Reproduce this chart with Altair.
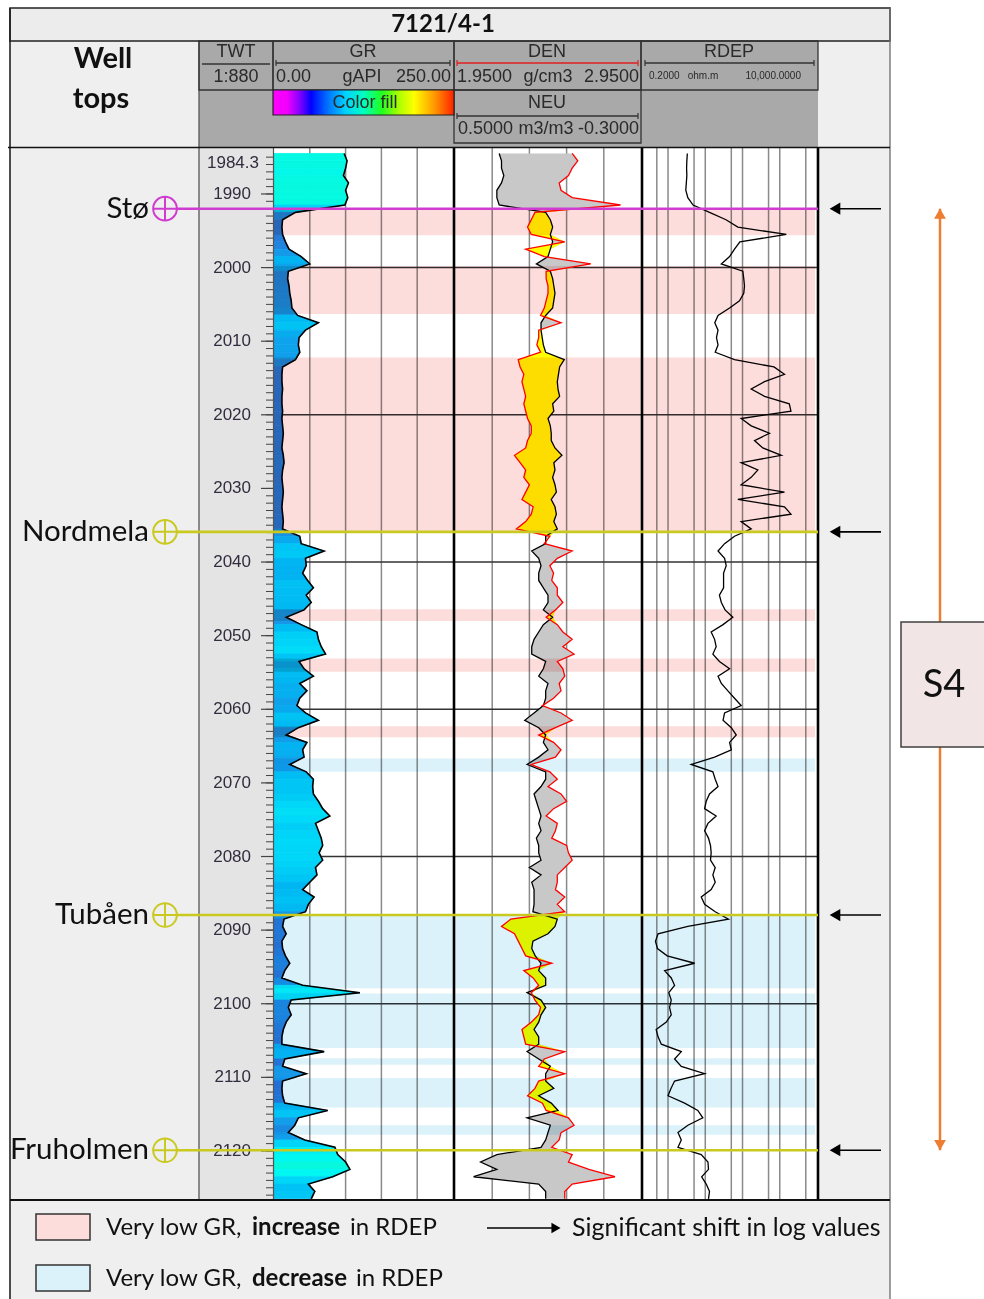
import altair as alt
import numpy as np
import pandas as pd

# ---------------------------------------------------------------------------
# Well 7121/4-1 log samples (1 m spacing)
# ---------------------------------------------------------------------------
DEPTH = np.round(np.arange(1984.5, 2127.0, 1.0), 1)

# Gamma ray, gAPI
GR = [98, 102, 100, 97, 104, 100, 103, 99,
      30, 12, 11, 12, 16, 21, 38, 50,
      20, 19, 21, 22, 24, 25, 33, 62, 44, 35, 34, 36, 30,
      12, 11, 11, 12, 11, 11, 12, 11, 12, 13, 12, 11, 13, 14, 12, 11, 12, 13,
      12, 11, 12, 13, 12,
      36, 38, 70, 44, 45, 40, 47, 55, 45, 52, 42, 17, 38, 60, 62, 66, 72,
      35, 42, 55, 36, 46, 36, 32, 44, 62, 34, 17, 46, 40, 42, 22, 45, 55,
      54, 55, 62, 68, 78, 58, 62, 66, 68, 63, 68, 58, 60, 50, 40, 56, 48, 44,
      14, 12, 17, 11, 12, 16, 22, 15, 11, 40, 120, 24, 20, 24, 17, 13, 11,
      11, 70, 15, 12, 45, 12, 11, 12, 15, 75, 34, 29, 20, 43, 85,
      89, 100, 106, 82, 48, 57, 52]

# Bulk density, g/cm3
DEN = [2.58, 2.61, 2.58, 2.56, 2.51, 2.52, 2.58, 2.84,
       2.38, 2.36, 2.34, 2.36, 2.54, 2.33, 2.43, 2.68,
       2.44, 2.44, 2.45, 2.45, 2.44, 2.43, 2.41, 2.52, 2.40, 2.40, 2.39, 2.41,
       2.29, 2.30, 2.32, 2.31, 2.32, 2.33, 2.32, 2.33, 2.34, 2.36, 2.36, 2.34,
       2.33, 2.27, 2.30, 2.33, 2.32, 2.35, 2.33, 2.31, 2.37, 2.36, 2.33, 2.28,
       2.46, 2.43, 2.58, 2.50, 2.46, 2.48, 2.47, 2.50, 2.50, 2.53, 2.49, 2.44,
       2.50, 2.53, 2.58, 2.53, 2.59, 2.50, 2.53, 2.54, 2.51, 2.52, 2.48, 2.42,
       2.52, 2.58, 2.49, 2.40, 2.48, 2.52, 2.49, 2.36, 2.46, 2.50, 2.45, 2.52,
       2.55, 2.48, 2.44, 2.50, 2.49, 2.47, 2.55, 2.56, 2.58, 2.54, 2.50, 2.50,
       2.49, 2.54, 2.50, 2.54,
       2.25, 2.20, 2.27, 2.29, 2.31, 2.33, 2.47, 2.32, 2.37, 2.40, 2.36, 2.38,
       2.41, 2.40, 2.36, 2.31, 2.32, 2.33, 2.54, 2.43, 2.40, 2.54, 2.40, 2.38,
       2.34, 2.42, 2.44, 2.56, 2.59, 2.52, 2.51, 2.47,
       2.58, 2.56, 2.67, 2.81, 2.58, 2.54, 2.54]

# Neutron porosity, m3/m3
NEU = [0.31, 0.30, 0.30, 0.29, 0.30, 0.32, 0.32, 0.31,
       0.11, 0.09, 0.08, 0.09, 0.08, 0.09, 0.10, 0.15,
       0.09, 0.08, 0.075, 0.07, 0.075, 0.08, 0.11, 0.13, 0.13, 0.125, 0.12, 0.11,
       0.03, 0.05, 0.055, 0.06, 0.057, 0.05, 0.08, 0.075, 0.10, 0.09, 0.086, 0.086,
       0.07, 0.04, 0.075, 0.07, 0.08, 0.07, 0.064, 0.086, 0.07, 0.064, 0.075, 0.06,
       0.11, 0.11, 0.17, 0.14, 0.13, 0.14, 0.14, 0.12, 0.10, 0.10, 0.12, 0.08,
       0.12, 0.14, 0.16, 0.17, 0.17, 0.11, 0.12, 0.14, 0.10, 0.11, 0.11, 0.12,
       0.16, 0.20, 0.14, 0.11, 0.12, 0.10, 0.14, 0.19, 0.11, 0.11, 0.13, 0.16,
       0.15, 0.14, 0.13, 0.14, 0.13, 0.15, 0.14, 0.14, 0.13, 0.18, 0.13, 0.17,
       0.16, 0.16, 0.16, 0.165,
       0.06, 0.07, 0.10, 0.165, 0.17, 0.155, 0.13, 0.14, 0.11, 0.11, 0.19, 0.13,
       0.11, 0.13, 0.14, 0.16, 0.14, 0.14, 0.19, 0.14, 0.09, 0.11, 0.11, 0.075,
       0.14, 0.086, 0.057, 0.19, 0.09, 0.10, 0.11, 0.13,
       0.32, 0.39, 0.32, 0.42, 0.14, 0.11, 0.11]

# Deep resistivity, ohm.m
RDEP = [3.3, 3.2, 3.15, 3.2, 3.1, 3.0, 3.4, 4.7,
        13, 36, 75, 1500, 85, 61, 45, 27,
        102, 108, 113, 108, 83, 45, 22, 18, 22, 20, 22, 18.5,
        61, 700, 1340, 390, 171, 390, 1800, 2000, 92, 171, 530, 210,
        350, 1100, 92, 258, 171, 92, 1340, 75, 1340, 2000, 92, 171,
        61, 33, 22, 33, 36.5, 31, 31, 31, 24, 27, 34, 55,
        30, 14.4, 17.8, 19.6, 16, 24, 45, 22, 27, 40.5, 61, 92,
        33, 30, 50, 68, 45, 50, 17.8, 4.2, 16, 18.5, 22, 13,
        10.6, 9.6, 19.6, 11.8, 9.6, 12.2, 13.8, 14.4, 13.8, 18.5, 16, 18.5,
        14.4, 7.8, 9.6, 18.5,
        42, 3.4, 0.54, 0.46, 0.52, 0.95, 5.2, 0.81, 1.22, 1.5, 1.05, 1.22,
        1.1, 1.22, 0.9, 0.48, 0.54, 0.66, 2.27, 1.5, 2.27, 9.6, 1.5, 1.2,
        1.0, 2.79, 6.3, 8.6, 3.42, 1.85, 2.27, 1.85,
        7.8, 11.8, 12.2, 8.0, 10.6, 13, 12.2]

assert len(GR) == len(DEN) == len(NEU) == len(RDEP) == len(DEPTH)

# Formation tops
WELL_TOPS = ["Stø", "Nordmela", "Tubåen", "Fruholmen"]
WELL_TOP_DEPTHS = [1992.0, 2035.9, 2087.95, 2119.9]

# Interpreted intervals: very low GR with increase / decrease in RDEP
INC_TOPS = [1992.0, 1999.8, 2012.2, 2046.4, 2053.1, 2062.3]
INC_BASES = [1995.6, 2006.3, 2035.9, 2048.0, 2054.9, 2063.8]
DEC_TOPS = [2066.7, 2087.95, 2098.6, 2107.4, 2110.1, 2116.5]
DEC_BASES = [2068.5, 2097.9, 2106.0, 2108.3, 2114.1, 2117.8]

TOP_DEPTH = 1984.3
BASE_DEPTH = 2126.66
DEPTH_LABELS = [1990, 2000, 2010, 2020, 2030, 2040, 2050, 2060, 2070,
                2080, 2090, 2100, 2110, 2120]
DEPTH_GRID = [2000, 2020, 2040, 2060, 2080, 2100]
GR_GRID = [50, 100, 150, 200]
DEN_GRID = [2.15, 2.35, 2.55, 2.75]
RDEP_GRID = [0.5, 1, 5, 10, 50, 100, 500, 1000, 5000]

# ---------------------------------------------------------------------------
# styling
# ---------------------------------------------------------------------------
SANS = "Liberation Sans"
HUM = "Lato"
PINK = "#fddcdc"
BLUE = "#dcf2fb"
MAGENTA = "#d03cd0"
OLIVE = "#c9c920"
ORANGE = "#ed7d31"
GRID_C = "#8a8a8a"
PANEL = "#efefef"
HDR = 18

W, H = 984, 1299
Y_TOP, Y_BOT = 152, 1200

DSCALE = alt.Scale(domain=[TOP_DEPTH, BASE_DEPTH], range=[Y_TOP, Y_BOT], zero=False, nice=False)
GR_SCALE = alt.Scale(domain=[0, 250], range=[274, 453], zero=False, nice=False)
DEN_SCALE = alt.Scale(domain=[1.95, 2.95], range=[455, 641], zero=False, nice=False)
NEU_SCALE = alt.Scale(domain=[-0.3, 0.5], range=[641, 455], zero=False, nice=False)
RDEP_SCALE = alt.Scale(type="log", domain=[0.2, 10000], range=[642, 817], nice=False)
GR_FILL = alt.Scale(domain=[10, 25, 45, 65, 95, 150, 200, 250],
                    range=["#2a74d6", "#1a92e6", "#00b6f2", "#00d6f8", "#00f8f2",
                           "#30ff60", "#ffff00", "#ff3000"],
                    interpolate="rgb")

ONE = pd.DataFrame({"k": [0]})


def box(x0, y0, x1, y1, **kw):
    return alt.Chart(ONE).mark_rect(**kw).encode(
        x=alt.value(x0), x2=alt.value(x1), y=alt.value(y0), y2=alt.value(y1))


def seg(x0, y0, x1, y1, color="#000", width=1.0):
    return alt.Chart(ONE).mark_rule(color=color, strokeWidth=width).encode(
        x=alt.value(x0), x2=alt.value(x1), y=alt.value(y0), y2=alt.value(y1))


def label(s, x, y, size=HDR, align="center", weight="normal", font=SANS,
          color="#2a2a2a", baseline="middle"):
    return alt.Chart(ONE).mark_text(
        align=align, baseline=baseline, font=font, fontSize=size,
        fontWeight=weight, color=color).encode(
        x=alt.value(x), y=alt.value(y), text=alt.value(s))


def scale_bar(x0, x1, y, color):
    return [seg(x0, y, x1, y, color, 1.5),
            seg(x0, y - 3, x0, y + 3, color, 1.2),
            seg(x1, y - 3, x1, y + 3, color, 1.2)]


dy = alt.Y("depth:Q", scale=DSCALE, axis=None)

LOG = pd.DataFrame({"depth": DEPTH, "gr": GR, "den": DEN, "neu": NEU, "rdep": RDEP})

# GR colour fill: one polygon per sample interval, coloured by its GR value
rows = []
for i in range(len(DEPTH) - 1):
    c = (GR[i] + GR[i + 1]) / 2
    rows.append({"seg": i, "depth": DEPTH[i], "gr": GR[i], "c": c})
    rows.append({"seg": i, "depth": DEPTH[i + 1], "gr": GR[i + 1], "c": c})
GR_SEGS = pd.DataFrame(rows)

BANDS = pd.DataFrame({
    "top": INC_TOPS + DEC_TOPS,
    "base": INC_BASES + DEC_BASES,
    "kind": ["increase"] * len(INC_TOPS) + ["decrease"] * len(DEC_TOPS),
})
WT = pd.DataFrame({"name": WELL_TOPS, "depth": WELL_TOP_DEPTHS})
S4 = pd.DataFrame({"top": [WELL_TOP_DEPTHS[0]], "base": [WELL_TOP_DEPTHS[-1]]})

layers = []

# ---- panel backgrounds ----
layers += [
    box(10, 8, 890, 41, fill="#ececec"),
    box(10, 41, 199, 147, fill=PANEL),
    box(199, 41, 818, 147, fill="#a9a9a9"),
    box(818, 41, 890, 147, fill=PANEL),
    box(10, 148, 199, 1200, fill=PANEL),
    box(199, 148, 273, 1200, fill="#e4e4e4"),
    box(273, 148, 818, 1200, fill="#ffffff"),
    box(818, 148, 890, 1200, fill=PANEL),
    box(10, 1200, 890, 1299, fill=PANEL),
]

# ---- track grids ----
layers += [
    alt.Chart(pd.DataFrame({"v": GR_GRID})).mark_rule(color=GRID_C, strokeWidth=1.5).encode(
        x=alt.X("v:Q", scale=GR_SCALE, axis=None), y=alt.value(148), y2=alt.value(1200)),
    alt.Chart(pd.DataFrame({"v": DEN_GRID})).mark_rule(color=GRID_C, strokeWidth=1.5).encode(
        x=alt.X("v:Q", scale=DEN_SCALE, axis=None), y=alt.value(148), y2=alt.value(1200)),
    alt.Chart(pd.DataFrame({"v": RDEP_GRID})).mark_rule(color=GRID_C, strokeWidth=1.5).encode(
        x=alt.X("v:Q", scale=RDEP_SCALE, axis=None), y=alt.value(148), y2=alt.value(1200)),
    alt.Chart(pd.DataFrame({"depth": DEPTH_GRID})).mark_rule(color="#333", strokeWidth=1.5).encode(
        y=dy, x=alt.value(274), x2=alt.value(818)),
]

# ---- GR colour fill ----
layers.append(
    alt.Chart(GR_SEGS).mark_area(orient="horizontal", strokeWidth=0.8).encode(
        y=dy,
        x=alt.X("gr:Q", scale=GR_SCALE, axis=None),
        x2=alt.datum(0),
        detail="seg:N",
        color=alt.Color("c:Q", scale=GR_FILL, legend=None),
        stroke=alt.Stroke("c:Q", scale=GR_FILL, legend=None),
    )
)

# ---- density / neutron crossover fills ----
cross = alt.Chart(LOG).transform_calculate(
    neu_den="1.95 + (0.5 - datum.neu) / 0.8",
    hi="max(datum.den, 1.95 + (0.5 - datum.neu) / 0.8)",
)
layers += [
    cross.mark_area(orient="horizontal", color="#c8c8c8").encode(
        y=dy, x=alt.X("neu_den:Q", scale=DEN_SCALE, axis=None), x2="hi:Q"),
    cross.mark_area(orient="horizontal", color="#ffff00").encode(
        y=dy, x=alt.X("den:Q", scale=DEN_SCALE, axis=None), x2="hi:Q"),
]

# ---- interpreted intervals (multiplied over the tracks) ----
layers.append(
    alt.Chart(BANDS).mark_rect(blend="multiply").encode(
        y=alt.Y("top:Q", scale=DSCALE, axis=None), y2="base:Q",
        x=alt.value(274), x2=alt.value(815),
        color=alt.Color("kind:N", scale=alt.Scale(domain=["increase", "decrease"],
                                                  range=[PINK, BLUE]), legend=None),
    )
)

# ---- log curves ----
layers += [
    alt.Chart(LOG).mark_line(color="#000", strokeWidth=1.6).encode(
        y=dy, x=alt.X("gr:Q", scale=GR_SCALE, axis=None), order="depth:Q"),
    alt.Chart(LOG).mark_line(color="#000", strokeWidth=1.3).encode(
        y=dy, x=alt.X("neu:Q", scale=NEU_SCALE, axis=None), order="depth:Q"),
    alt.Chart(LOG).mark_line(color="#ff0000", strokeWidth=1.3).encode(
        y=dy, x=alt.X("den:Q", scale=DEN_SCALE, axis=None), order="depth:Q"),
    alt.Chart(LOG).mark_line(color="#000", strokeWidth=1.3).encode(
        y=dy, x=alt.X("rdep:Q", scale=RDEP_SCALE, axis=None), order="depth:Q"),
]

# ---- depth ruler ----
layers += [
    alt.Chart(pd.DataFrame({"depth": np.arange(1985, 2127)})).mark_rule(
        color="#444", strokeWidth=1).encode(y=dy, x=alt.value(266), x2=alt.value(273)),
    alt.Chart(pd.DataFrame({"depth": DEPTH_LABELS})).mark_rule(
        color="#444", strokeWidth=1.2).encode(y=dy, x=alt.value(261), x2=alt.value(273)),
    alt.Chart(pd.DataFrame({"depth": DEPTH_LABELS})).mark_text(
        align="right", baseline="middle", font=SANS, fontSize=17, color="#322c3e").encode(
        y=dy, x=alt.value(251), text=alt.Text("depth:Q", format="d")),
    alt.Chart(pd.DataFrame({"depth": [TOP_DEPTH]})).mark_text(
        align="right", baseline="middle", font=SANS, fontSize=17, color="#322c3e",
        yOffset=11).encode(y=dy, x=alt.value(259), text=alt.Text("depth:Q", format=".1f")),
]

# ---- track borders ----
layers += [
    seg(199, 41, 199, 1200, "#555", 1.3),
    seg(273.5, 148, 273.5, 1200, "#555", 1.2),
    seg(454, 148, 454, 1200, "#000", 2.6),
    seg(642, 148, 642, 1200, "#000", 2.6),
    seg(818, 148, 818, 1200, "#000", 2.6),
]

# ---- formation tops ----
wt_color = alt.Color("name:N", scale=alt.Scale(domain=WELL_TOPS,
                                              range=[MAGENTA, OLIVE, OLIVE, OLIVE]), legend=None)
layers += [
    alt.Chart(WT).mark_rule(strokeWidth=2.6).encode(
        y=dy, x=alt.value(177), x2=alt.value(818), color=wt_color),
    alt.Chart(WT).mark_point(shape="circle", size=560, filled=False, strokeWidth=2,
                             opacity=1).encode(y=dy, x=alt.value(165), color=wt_color),
    alt.Chart(WT).mark_point(shape="M-1,0L1,0M0,-1L0,1", size=560, filled=False,
                             strokeWidth=2, opacity=1).encode(y=dy, x=alt.value(165), color=wt_color),
    alt.Chart(WT).mark_text(align="right", baseline="middle", font=HUM, fontSize=29.5,
                            color="#111").encode(y=dy, x=alt.value(149), text="name:N"),
    # shift arrows
    alt.Chart(WT).mark_rule(color="#000", strokeWidth=1.6).encode(
        y=dy, x=alt.value(836), x2=alt.value(881)),
    alt.Chart(WT).mark_point(shape="triangle-left", filled=True, size=150, color="#000",
                             opacity=1).encode(y=dy, x=alt.value(835)),
]

# ---- header ----
layers += [
    box(10, 8, 890, 41, fill="transparent", stroke="#222", strokeWidth=1.6),
    seg(10, 8, 10, 1299, "#222", 1.6),
    seg(890, 8, 890, 1299, "#777", 1.4),
    label("7121/4-1", 443, 25, size=24, weight="bold", font=HUM, color="#111"),
    label("Well", 103, 59, size=29, weight="bold", font=HUM, color="#111"),
    label("tops", 101, 99, size=29, weight="bold", font=HUM, color="#111"),
    box(199, 41, 273, 90, fill="transparent", stroke="#333", strokeWidth=1.3),
    box(273, 41, 454, 90, fill="transparent", stroke="#333", strokeWidth=1.3),
    box(454, 41, 641, 90, fill="transparent", stroke="#333", strokeWidth=1.3),
    box(641, 41, 818, 90, fill="transparent", stroke="#333", strokeWidth=1.3),
    box(454, 90, 641, 143, fill="transparent", stroke="#333", strokeWidth=1.3),
    box(273, 90, 454, 115, stroke="#222", strokeWidth=1.2,
        fill=alt.LinearGradient(
            gradient="linear", x1=0, x2=1, y1=0, y2=0,
            stops=[alt.GradientStop(offset=0.0, color="#ff00ff"),
                   alt.GradientStop(offset=0.08, color="#f000ff"),
                   alt.GradientStop(offset=0.15, color="#8000ff"),
                   alt.GradientStop(offset=0.21, color="#0000ff"),
                   alt.GradientStop(offset=0.30, color="#0070ff"),
                   alt.GradientStop(offset=0.40, color="#00d0ff"),
                   alt.GradientStop(offset=0.50, color="#00ffc0"),
                   alt.GradientStop(offset=0.60, color="#20ff20"),
                   alt.GradientStop(offset=0.70, color="#b0ff00"),
                   alt.GradientStop(offset=0.78, color="#ffff00"),
                   alt.GradientStop(offset=0.90, color="#ff9000"),
                   alt.GradientStop(offset=1.0, color="#ff2000")])),
    label("Color fill", 365, 103),
    label("TWT", 236, 52),
    seg(202, 64, 270, 64, "#333", 1.5),
    label("1:880", 236, 77),
    label("GR", 363, 52),
    label("0.00", 276, 77, align="left"),
    label("gAPI", 362, 77),
    label("250.00", 451, 77, align="right"),
    label("DEN", 547, 52),
    label("1.9500", 457, 77, align="left"),
    label("g/cm3", 548, 77),
    label("2.9500", 639, 77, align="right"),
    label("NEU", 547, 103),
    label("0.5000", 458, 129, align="left"),
    label("m3/m3", 546, 129),
    label("-0.3000", 639, 129, align="right"),
    label("RDEP", 729, 52),
    label("0.2000", 649, 76, size=10, align="left"),
    label("ohm.m", 703, 76, size=10),
    label("10,000.0000", 801, 76, size=10, align="right"),
    seg(8, 147.5, 890, 147.5, "#111", 1.6),
    seg(10, 1200, 890, 1200, "#111", 2.2),
]
layers += scale_bar(276, 450, 63, "#333")
layers += scale_bar(457, 638, 63, "#e02020")
layers += scale_bar(457, 638, 116, "#333")
layers += scale_bar(645, 814, 63, "#333")

# ---- legend ----
LEG = 24
layers += [
    box(36, 1214, 90, 1240, fill=PINK, stroke="#333", strokeWidth=1.5),
    box(36, 1265, 90, 1291, fill=BLUE, stroke="#333", strokeWidth=1.5),
    label("Very low GR,", 106, 1228, size=LEG, align="left", font=HUM, color="#111"),
    label("increase", 252, 1228, size=LEG, align="left", font=HUM, weight="bold", color="#111"),
    label("in RDEP", 350, 1228, size=LEG, align="left", font=HUM, color="#111"),
    label("Very low GR,", 106, 1279, size=LEG, align="left", font=HUM, color="#111"),
    label("decrease", 252, 1279, size=LEG, align="left", font=HUM, weight="bold", color="#111"),
    label("in RDEP", 356, 1279, size=LEG, align="left", font=HUM, color="#111"),
    seg(487, 1228, 553, 1228, "#000", 1.6),
    alt.Chart(ONE).mark_point(shape="triangle-right", filled=True, size=110, color="#000",
                              opacity=1).encode(x=alt.value(556), y=alt.value(1228)),
    label("Significant shift in log values", 572, 1228, size=25, align="left",
          font=HUM, color="#111"),
]

# ---- S4 interval ----
layers += [
    alt.Chart(S4).mark_rule(color=ORANGE, strokeWidth=2.5).encode(
        x=alt.value(940), y=alt.Y("top:Q", scale=DSCALE, axis=None), y2="base:Q"),
    alt.Chart(S4).mark_point(shape="triangle-up", filled=True, size=140, color=ORANGE,
                             opacity=1, yOffset=5).encode(
        x=alt.value(940), y=alt.Y("top:Q", scale=DSCALE, axis=None)),
    alt.Chart(S4).mark_point(shape="triangle-down", filled=True, size=140, color=ORANGE,
                             opacity=1, yOffset=-5).encode(
        x=alt.value(940), y=alt.Y("base:Q", scale=DSCALE, axis=None)),
    box(901, 622, 990, 747, fill="#f1e5e5", stroke="#404040", strokeWidth=1.5),
    label("S4", 944, 686, size=38, font=HUM, color="#111"),
]

chart = alt.layer(*layers).resolve_scale(
    x="independent", color="independent", stroke="independent"
).properties(
    width=W, height=H, padding=0, background="white",
    autosize=alt.AutoSizeParams(type="none"),
).configure_view(strokeWidth=0)

chart.save("out.html", embed_options={"renderer": "svg", "actions": False})
